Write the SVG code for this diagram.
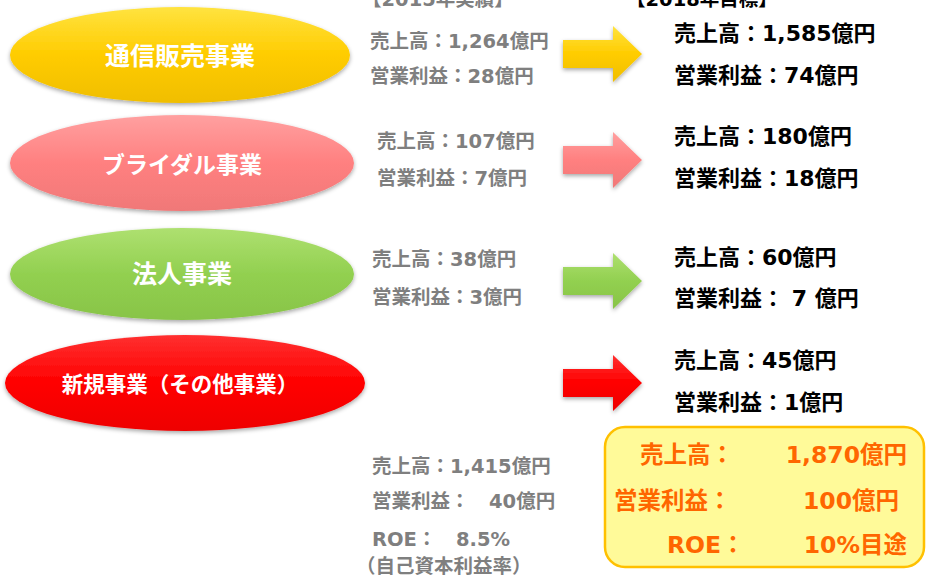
<svg xmlns="http://www.w3.org/2000/svg" width="927" height="578" viewBox="0 0 927 578">
<defs>
<linearGradient id="gY" x1="0" y1="0" x2="0" y2="1"><stop offset="0" stop-color="#FFE340"/><stop offset="0.5" stop-color="#FFCC00"/><stop offset="1" stop-color="#F0BE00"/></linearGradient>
<linearGradient id="gP" x1="0" y1="0" x2="0" y2="1"><stop offset="0" stop-color="#FFA0A0"/><stop offset="0.5" stop-color="#FF8080"/><stop offset="1" stop-color="#F07878"/></linearGradient>
<linearGradient id="gG" x1="0" y1="0" x2="0" y2="1"><stop offset="0" stop-color="#AEE070"/><stop offset="0.5" stop-color="#92D050"/><stop offset="1" stop-color="#88C448"/></linearGradient>
<linearGradient id="gR" x1="0" y1="0" x2="0" y2="1"><stop offset="0" stop-color="#FF3030"/><stop offset="0.5" stop-color="#FF0000"/><stop offset="1" stop-color="#EE0000"/></linearGradient>
<filter id="sh" x="-10%" y="-20%" width="120%" height="150%"><feDropShadow dx="0" dy="2" stdDeviation="2" flood-color="#000" flood-opacity="0.35"/></filter>
<path id="arr" d="M0,-14 L50,-14 L50,-28 L79,0 L50,28 L50,14 L0,14 Z"/>
</defs>
<style>
.lbl{font-family:"DejaVu Sans","Noto Sans CJK JP",sans-serif;font-weight:bold;font-size:25px;fill:#fff;text-anchor:middle}
.g{font-family:"DejaVu Sans","Noto Sans CJK JP",sans-serif;font-weight:bold;font-size:19.5px;fill:#7F7F7F}
.k{font-family:"DejaVu Sans","Noto Sans CJK JP",sans-serif;font-weight:bold;font-size:22px;fill:#000}
.o{font-family:"DejaVu Sans","Noto Sans CJK JP",sans-serif;font-weight:bold;font-size:23.5px;fill:#FF6600}
</style>
<rect width="927" height="578" fill="#fff"/>
<text class="g" x="362" y="6">【2015年実績】</text>
<text class="k" x="626" y="6" style="font-size:19.5px">【2018年目標】</text>

<g id="node-tsuhan">
<ellipse cx="180" cy="55" rx="170" ry="48" fill="url(#gY)" filter="url(#sh)"/>
<text class="lbl" x="180" y="65">通信販売事業</text>
</g>
<g id="node-bridal">
<ellipse cx="182" cy="163" rx="172" ry="48" fill="url(#gP)" filter="url(#sh)"/>
<text class="lbl" x="182" y="173" style="font-size:23px">ブライダル事業</text>
</g>
<g id="node-houjin">
<ellipse cx="182" cy="274" rx="172" ry="46" fill="url(#gG)" filter="url(#sh)"/>
<text class="lbl" x="182" y="283">法人事業</text>
</g>
<g id="node-shinki">
<ellipse cx="185" cy="383" rx="180" ry="48" fill="url(#gR)" filter="url(#sh)"/>
<text class="lbl" x="180" y="392" style="font-size:21.5px">新規事業（その他事業）</text>
</g>

<g id="connectors">
<use href="#arr" transform="translate(563,54)" fill="url(#gY)" filter="url(#sh)"/>
<use href="#arr" transform="translate(563,160)" fill="url(#gP)" filter="url(#sh)"/>
<use href="#arr" transform="translate(563,281)" fill="url(#gG)" filter="url(#sh)"/>
<use href="#arr" transform="translate(563,383)" fill="url(#gR)" filter="url(#sh)"/>
</g>

<g id="actual-2015">
<text class="g" x="370" y="48">売上高：1,264億円</text>
<text class="g" x="370" y="83">営業利益：28億円</text>
<text class="g" x="377" y="148">売上高：107億円</text>
<text class="g" x="377" y="185">営業利益：7億円</text>
<text class="g" x="372" y="266">売上高：38億円</text>
<text class="g" x="372" y="304">営業利益：3億円</text>
<text class="g" x="372" y="473">売上高：1,415億円</text>
<text class="g" x="372" y="508">営業利益：　40億円</text>
<text class="g" x="372" y="546">ROE：　8.5%</text>
<text class="g" x="356" y="573">（自己資本利益率）</text>
</g>

<g id="target-2018">
<text class="k" x="674" y="41">売上高：1,585億円</text>
<text class="k" x="674" y="83">営業利益：74億円</text>
<text class="k" x="674" y="144">売上高：180億円</text>
<text class="k" x="674" y="186">営業利益：18億円</text>
<text class="k" x="674" y="265">売上高：60億円</text>
<text class="k" x="674" y="306">営業利益： 7 億円</text>
<text class="k" x="674" y="368">売上高：45億円</text>
<text class="k" x="674" y="410">営業利益：1億円</text>
</g>

<g id="total-box">
<rect x="605" y="427" width="319" height="140" rx="20" fill="#FFFA99" stroke="#FFC000" stroke-width="2.5"/>
<text class="o" x="640" y="463">売上高：</text>
<text class="o" x="907" y="463" text-anchor="end">1,870億円</text>
<text class="o" x="614" y="509">営業利益：</text>
<text class="o" x="899" y="509" text-anchor="end">100億円</text>
<text class="o" x="667" y="553">ROE：</text>
<text class="o" x="907" y="553" text-anchor="end">10%目途</text>
</g>
</svg>
